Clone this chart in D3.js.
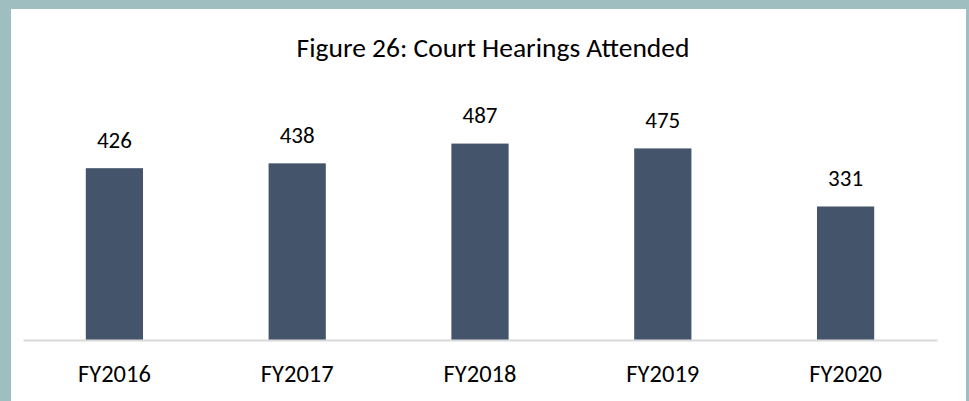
<!DOCTYPE html>
<html><head><meta charset="utf-8">
<script src="https://cdn.jsdelivr.net/npm/d3@7"></script>
<style>
html,body{margin:0;padding:0;background:#9fbec0;}
svg{display:block;}
</style></head>
<body>
<svg id="chart" width="969" height="401"></svg>
<script>
const categories = ["FY2016","FY2017","FY2018","FY2019","FY2020"];
const values = [426, 438, 487, 475, 331];
const title = "Figure 26: Court Hearings Attended";

const svg = d3.select("#chart");
const W = 969, H = 401;
const FONT = "Carlito, Calibri, Lato, 'Open Sans', sans-serif";

svg.append("rect").attr("x",0).attr("y",0).attr("width",W).attr("height",H).attr("fill","#9fbec0");
svg.append("rect").attr("x",11).attr("y",9).attr("width",955).attr("height",H-9).attr("fill","#ffffff");

const x = d3.scaleBand().domain(categories).range([23, 937]).padding(0);
const y = d3.scaleLinear().domain([0, 600]).range([340, 98]);
const barW = x.bandwidth() * 0.313;

svg.append("text").attr("x", 493).attr("y", 57)
  .attr("text-anchor","middle").attr("font-family",FONT).attr("font-size",27.5)
  .attr("fill","#000").text(title);

svg.selectAll("rect.bar").data(values).enter().append("rect")
  .attr("class","bar")
  .attr("x",(d,i)=> x(categories[i]) + x.bandwidth()/2 - barW/2)
  .attr("y", d=> y(d))
  .attr("width", barW)
  .attr("height", d=> y(0)-y(d))
  .attr("fill","#44546a");

svg.selectAll("text.val").data(values).enter().append("text")
  .attr("class","val")
  .attr("x",(d,i)=> x(categories[i]) + x.bandwidth()/2)
  .attr("y", d=> y(d) - 20.5)
  .attr("text-anchor","middle").attr("font-family",FONT).attr("font-size",23)
  .attr("fill","#000").text(d=>d);

const axis = d3.axisBottom(x).tickSize(0).tickPadding(0);
const g = svg.append("g").attr("transform","translate(0,340)").call(axis);
g.select(".domain").attr("stroke","#d9d9d9").attr("stroke-width",2);
g.selectAll(".tick text").attr("font-family",FONT).attr("font-size",24.5)
  .attr("fill","#000").attr("dy",null).attr("y",42);
</script>
</body></html>
